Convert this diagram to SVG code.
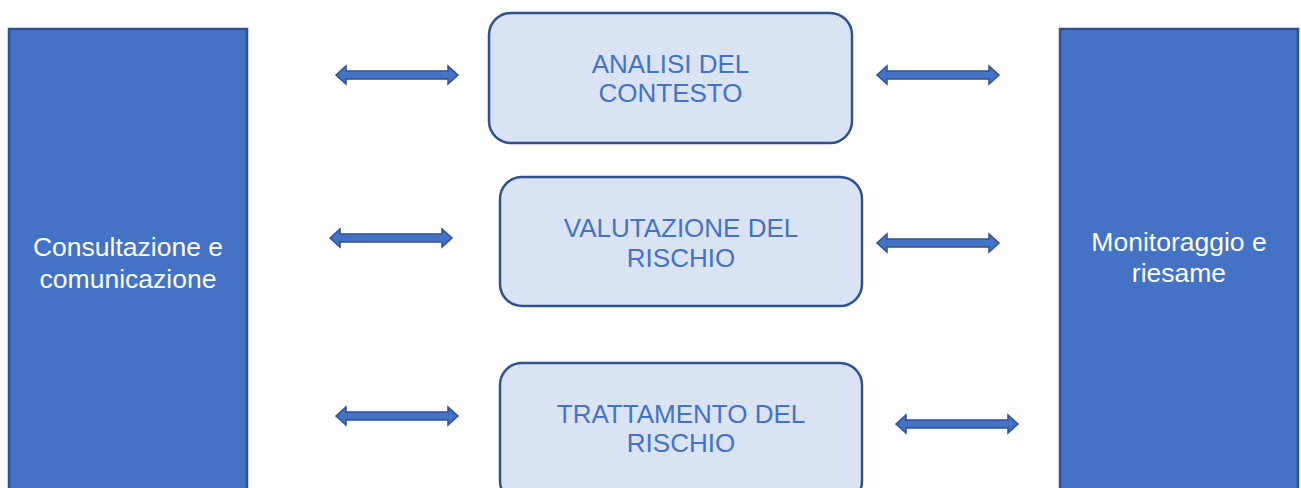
<svg xmlns="http://www.w3.org/2000/svg" xmlns:xlink="http://www.w3.org/1999/xlink" width="1301" height="488" viewBox="0 0 1301 488">
<style>
.side{fill:#4472C4;stroke:#2F528F;stroke-width:2.5}
.box{fill:#DAE3F3;stroke:#2F528F;stroke-width:2.5}
.st{font-family:"Liberation Sans",Arial,sans-serif;font-size:26.5px;fill:#FFFFFF;text-anchor:middle}
.bt{font-family:"Liberation Sans",Arial,sans-serif;font-size:26px;fill:#4472C4;text-anchor:middle}
.arr{fill:#4472C4;stroke:#2F528F;stroke-width:1.5;stroke-linejoin:miter}
</style>
<defs>
<path id="dbl" d="M0 0 L10 -9 L10 -4 L112 -4 L112 -9 L122 0 L112 9 L112 4 L10 4 L10 9 Z"/>
</defs>
<rect width="1301" height="488" fill="#FFFFFF"/>
<g id="consultazione">
<rect class="side" x="9" y="29" width="238" height="470"/>
<text class="st" x="128" y="256">Consultazione e</text>
<text class="st" x="128" y="288">comunicazione</text>
</g>
<g id="monitoraggio">
<rect class="side" x="1060" y="29" width="238" height="470"/>
<text class="st" x="1179" y="251">Monitoraggio e</text>
<text class="st" x="1179" y="282">riesame</text>
</g>
<g id="analisi">
<rect class="box" x="489" y="13" width="363" height="130" rx="22"/>
<text class="bt" x="670.5" y="73">ANALISI DEL</text>
<text class="bt" x="670.5" y="102">CONTESTO</text>
</g>
<g id="valutazione">
<rect class="box" x="500" y="177" width="362" height="129" rx="22"/>
<text class="bt" x="681" y="237">VALUTAZIONE DEL</text>
<text class="bt" x="681" y="267">RISCHIO</text>
</g>
<g id="trattamento">
<rect class="box" x="500" y="363" width="362" height="140" rx="22"/>
<text class="bt" x="681" y="423">TRATTAMENTO DEL</text>
<text class="bt" x="681" y="452">RISCHIO</text>
</g>
<g id="connectors">
<use class="arr" xlink:href="#dbl" transform="translate(336,75)"/>
<use class="arr" xlink:href="#dbl" transform="translate(330,238)"/>
<use class="arr" xlink:href="#dbl" transform="translate(336,416)"/>
<use class="arr" xlink:href="#dbl" transform="translate(877,75)"/>
<use class="arr" xlink:href="#dbl" transform="translate(877,243)"/>
<use class="arr" xlink:href="#dbl" transform="translate(896,424)"/>
</g>
</svg>
